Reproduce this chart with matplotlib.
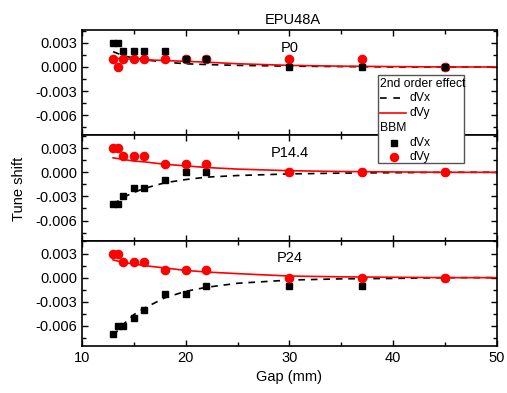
import matplotlib
matplotlib.use("Agg")
import matplotlib.pyplot as plt
from matplotlib.lines import Line2D
from matplotlib.patches import Rectangle
from matplotlib.ticker import MultipleLocator, FormatStrFormatter

plt.rcParams['font.family'] = ['Liberation Sans', 'DejaVu Sans']
plt.rcParams['axes.unicode_minus'] = False

# measured points (BBM)
gap = [13, 13.5, 14, 15, 16, 18, 20, 22, 30, 37, 45]
panels = ["P0", "P14.4", "P24"]
bbm_dvx = [
    [0.003, 0.003, 0.002, 0.002, 0.002, 0.002, 0.001, 0.001, 0.0, 0.0, 0.0],
    [-0.004, -0.004, -0.003, -0.002, -0.002, -0.001, 0.0, 0.0, 0.0, 0.0, 0.0],
    [-0.007, -0.006, -0.006, -0.005, -0.004, -0.002, -0.002, -0.001, -0.001, -0.001, 0.0],
]
bbm_dvy = [
    [0.001, 0.0, 0.001, 0.001, 0.001, 0.001, 0.001, 0.001, 0.001, 0.001, 0.0],
    [0.003, 0.003, 0.002, 0.002, 0.002, 0.001, 0.001, 0.001, 0.0, 0.0, 0.0],
    [0.003, 0.003, 0.002, 0.002, 0.002, 0.001, 0.001, 0.001, 0.0, 0.0, 0.0],
]

# 2nd order effect curves
gap_fit = [13, 14, 15, 16, 18, 20, 22, 25, 30, 35, 40, 45, 50]
fit_dvx = [
    [0.0019, 0.0014, 0.0011, 0.0009, 0.0006, 0.0004, 0.0003, 0.0002, 0.0001, 0.00005, 0.0, 0.0, 0.0],
    [-0.0040, -0.0031, -0.0025, -0.0020, -0.0013, -0.0009, -0.0006, -0.0004, -0.0002, -0.0001, -0.00005, 0.0, 0.0],
    [-0.0072, -0.0058, -0.0046, -0.0038, -0.0025, -0.0017, -0.0012, -0.0007, -0.0003, -0.00015, -0.0001, 0.0, 0.0],
]
fit_dvy = [
    [0.0011, 0.0010, 0.0010, 0.0009, 0.0008, 0.0007, 0.0006, 0.0004, 0.0002, 0.0001, 0.00005, 0.0, 0.0],
    [0.0018, 0.0016, 0.0014, 0.0013, 0.0010, 0.0008, 0.0006, 0.0004, 0.0002, 0.0001, 0.00005, 0.0, 0.0],
    [0.0022, 0.0019, 0.0017, 0.0015, 0.0012, 0.0009, 0.0007, 0.0005, 0.0002, 0.0001, 0.00005, 0.0, 0.0],
]

fig, axes = plt.subplots(3, 1, sharex=True, figsize=(5.07, 3.93), dpi=100)
fig.subplots_adjust(left=0.1617, right=0.980, top=0.9237, bottom=0.1196, hspace=0)

for i, ax in enumerate(axes):
    ax.plot(gap_fit, fit_dvx[i], color="black", lw=1.2, dashes=(4, 3.5), zorder=2)
    ax.plot(gap_fit, fit_dvy[i], color="red", lw=1.2, zorder=2)
    if i == 0:
        ax.plot(gap, bbm_dvy[i], "o", color="red", ms=5.9, mec="red", zorder=3)
        ax.plot(gap, bbm_dvx[i], "s", color="black", ms=4.9, zorder=4)
    else:
        ax.plot(gap, bbm_dvx[i], "s", color="black", ms=4.9, zorder=3)
        ax.plot(gap, bbm_dvy[i], "o", color="red", ms=5.9, mec="red", zorder=4)
    ax.text(30, 0.9, panels[i], transform=ax.get_xaxis_transform(),
            ha="center", va="top", fontsize=10.5)
    ax.set_xlim(10, 50)
    ax.set_ylim(-0.0085, 0.0046)
    ax.yaxis.set_major_locator(MultipleLocator(0.003))
    ax.yaxis.set_minor_locator(MultipleLocator(0.0015))
    ax.yaxis.set_major_formatter(FormatStrFormatter("%.3f"))
    ax.xaxis.set_major_locator(MultipleLocator(10))
    ax.xaxis.set_minor_locator(MultipleLocator(5))
    ax.tick_params(which="both", direction="in", top=True, right=True,
                   labelsize=10.5, width=1.0)
    ax.tick_params(which="major", length=4.5)
    ax.tick_params(which="minor", length=3)
    for s in ax.spines.values():
        s.set_linewidth(1.2)

axes[-1].set_xlabel("Gap (mm)", fontsize=10.5)
fig.text(0.037, 0.52, "Tune shift", rotation=90, ha="center", va="center", fontsize=10.5)
fig.text(0.578, 0.95, "EPU48A", ha="center", va="center", fontsize=10.5)

# legend box drawn in figure pixels
W, H = 507.0, 393.0
def fx(px):
    return px / W
def fy(py):
    return 1 - py / H

box = Rectangle((fx(378), fy(163)), fx(464) - fx(378), fy(75) - fy(163),
                transform=fig.transFigure, facecolor="white", edgecolor="#555555",
                lw=1.0, zorder=10)
fig.add_artist(box)
fs = 8.7
fig.text(fx(380), fy(84), "2nd order effect", fontsize=fs, va="center", ha="left", zorder=11)
fig.add_artist(Line2D([fx(380), fx(406)], [fy(98), fy(98)], color="black", lw=1.2,
                      dashes=(4, 4), transform=fig.transFigure, zorder=11))
fig.text(fx(410), fy(98), "dVx", fontsize=fs, va="center", ha="left", zorder=11)
fig.add_artist(Line2D([fx(380), fx(406)], [fy(113), fy(113)], color="red", lw=1.2,
                      transform=fig.transFigure, zorder=11))
fig.text(fx(410), fy(113), "dVy", fontsize=fs, va="center", ha="left", zorder=11)
fig.text(fx(380), fy(128), "BBM", fontsize=fs, va="center", ha="left", zorder=11)
fig.add_artist(Line2D([fx(394)], [fy(143)], marker="s", color="black", ms=4.8,
                      transform=fig.transFigure, zorder=11))
fig.text(fx(410), fy(143), "dVx", fontsize=fs, va="center", ha="left", zorder=11)
fig.add_artist(Line2D([fx(394)], [fy(157)], marker="o", color="red", ms=5.8,
                      transform=fig.transFigure, zorder=11))
fig.text(fx(410), fy(157), "dVy", fontsize=fs, va="center", ha="left", zorder=11)

fig.savefig("out.png", dpi=100)
